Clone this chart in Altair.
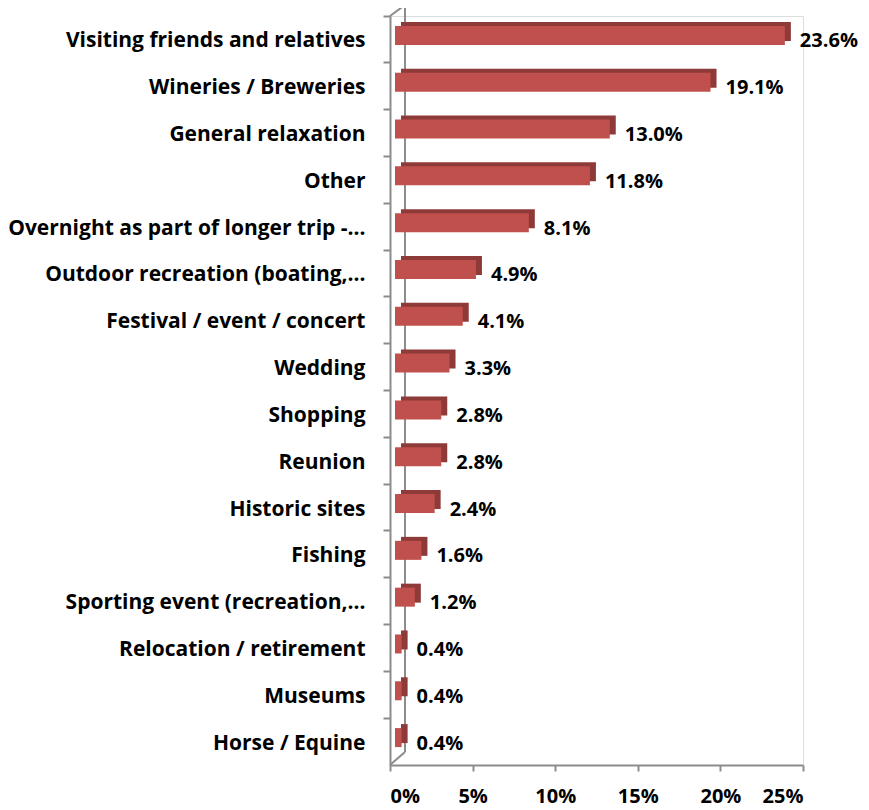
import altair as alt
import pandas as pd

categories = [
    "Visiting friends and relatives",
    "Wineries / Breweries",
    "General relaxation",
    "Other",
    "Overnight as part of longer trip -…",
    "Outdoor recreation (boating,…",
    "Festival / event / concert",
    "Wedding",
    "Shopping",
    "Reunion",
    "Historic sites",
    "Fishing",
    "Sporting event (recreation,…",
    "Relocation / retirement",
    "Museums",
    "Horse / Equine",
]
values = [23.6, 19.1, 13.0, 11.8, 8.1, 4.9, 4.1, 3.3, 2.8, 2.8, 2.4, 1.6, 1.2, 0.4, 0.4, 0.4]
x_ticks = [0, 5, 10, 15, 20, 25]

df = pd.DataFrame({"cat": categories, "v": values})

FONT = "Open Sans"
FRONT = "#C0504D"
DARK = "#8E3A38"
GRAY = "#8C8C8C"
W, H = 413, 749

xs = alt.Scale(domain=[0, 25], nice=False, zero=True)
ys = alt.Scale(domain=categories, paddingInner=0, paddingOuter=0)

base = alt.Chart(df)

back = base.mark_bar(color=DARK, size=19, xOffset=11, yOffset=-8, clip=False).encode(
    x=alt.X("v:Q", scale=xs,
            axis=alt.Axis(values=x_ticks, labelExpr="datum.value + '%'", title=None,
                          grid=False, domainColor=GRAY, domainWidth=2, tickColor=GRAY,
                          tickWidth=2, tickSize=6, labelFont=FONT, labelFontSize=20,
                          labelFontWeight="bold", labelColor="black", labelPadding=15)),
    y=alt.Y("cat:N", scale=ys, sort=None,
            axis=alt.Axis(title=None, domainColor=GRAY, domainWidth=2, tickColor=GRAY,
                          tickWidth=2, tickSize=7, bandPosition=0, labelFont=FONT,
                          labelFontSize=21, labelFontWeight="bold", labelColor="black",
                          labelPadding=18, labelLimit=400, labelOffset=2)),
)

front = base.mark_bar(color=FRONT, size=19, xOffset=5, yOffset=-4, clip=False).encode(
    x=alt.X("v:Q", scale=xs),
    y=alt.Y("cat:N", scale=ys, sort=None),
)

text = base.transform_calculate(lbl="format(datum.v, '.1f') + '%'").mark_text(
    align="left", baseline="middle", dx=20, dy=2, font=FONT, fontSize=20,
    fontWeight="bold", color="black").encode(
    x=alt.X("v:Q", scale=xs),
    y=alt.Y("cat:N", scale=ys, sort=None),
    text="lbl:N",
)

# 3D wall outline (decoration)
wall_back = alt.Chart(pd.DataFrame({"a": [0]})).mark_rule(color=GRAY, strokeWidth=2).encode(
    x=alt.value(15), y=alt.value(-11), y2=alt.value(H - 13))
wall_top = alt.Chart(pd.DataFrame({"a": [0]})).mark_rule(color=GRAY, strokeWidth=2).encode(
    x=alt.value(0), x2=alt.value(15), y=alt.value(0), y2=alt.value(-11))
wall_bot = alt.Chart(pd.DataFrame({"a": [0]})).mark_rule(color=GRAY, strokeWidth=2).encode(
    x=alt.value(0), x2=alt.value(15), y=alt.value(H), y2=alt.value(H - 13))

chart = alt.layer(wall_back, wall_top, wall_bot, back, front, text).properties(
    width=W, height=H,
    autosize=alt.AutoSizeParams(type="none"),
    padding={"left": 382, "top": 8, "right": 58, "bottom": 45},
).configure_view(stroke=None).configure(background="white")

chart.save("out.html", embed_options={"renderer": "svg", "actions": False})
